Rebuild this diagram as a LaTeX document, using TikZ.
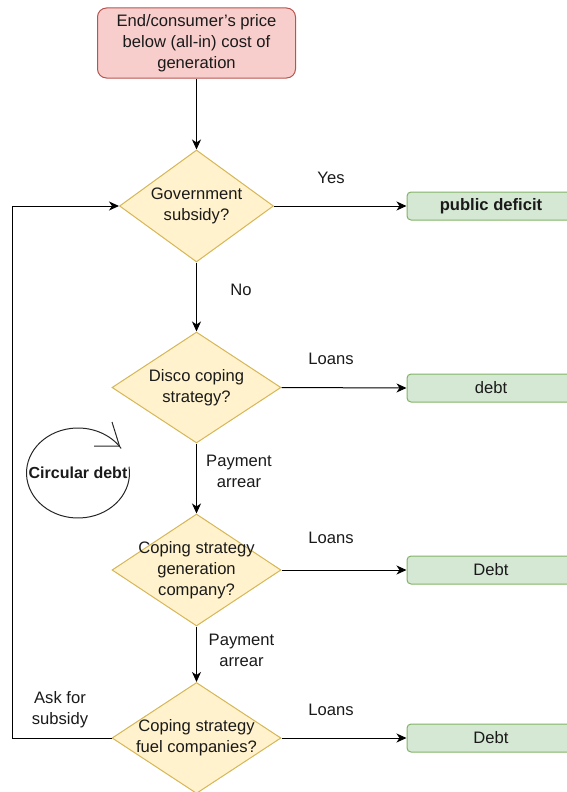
\documentclass[tikz,border=0pt]{standalone}
\usepackage{fontspec}
\setmainfont{Liberation Sans}
\usetikzlibrary{shapes.geometric,arrows.meta}
\definecolor{redfill}{HTML}{F8CECC}
\definecolor{redline}{HTML}{B85450}
\definecolor{yelfill}{HTML}{FFF2CC}
\definecolor{yelline}{HTML}{D6B656}
\definecolor{grnfill}{HTML}{D5E8D4}
\definecolor{grnline}{HTML}{82B366}
\definecolor{txtcol}{HTML}{1A1A1A}
\begin{document}
\begin{tikzpicture}[x=1pt,y=1pt,
  every node/.style={text=txtcol, font=\fontsize{16.6}{21}\selectfont},
  startbox/.style={draw=redline, fill=redfill, rounded corners=9pt, line width=1pt,
    minimum width=198pt, minimum height=70pt, align=center, inner sep=0pt},
  dia/.style={diamond, draw=yelline, fill=yelfill, line width=1pt, inner sep=0pt,
    minimum height=111pt},
  dtxt/.style={align=center, inner sep=0pt},
  res/.style={draw=grnline, fill=grnfill, rounded corners=4pt, line width=1pt,
    minimum width=168pt, minimum height=28pt, inner sep=0pt},
  lbl/.style={align=center, inner sep=0pt},
  arr/.style={line width=1pt, draw=black, -{Stealth[length=10pt,width=9pt,inset=3pt]}},
  circ/.style={line width=1pt, draw=black!85}
]
\useasboundingbox (0,0) rectangle (566,-792);

% main column
\node[startbox] (start) at (196.5,-43) {End/consumer's price\\below (all-in) cost of\\generation};

\node[dia, minimum width=154pt, minimum height=112pt] (d1) at (196.5,-206) {};
\node[dtxt] (t1) at (d1) {Government\\subsidy?};

\node[dia, minimum width=169pt] (d2) at (196.5,-387.5) {};
\node[dtxt] (t2) at (d2) {Disco coping\\strategy?};

\node[dia, minimum width=169pt, minimum height=112pt] (d3) at (196.5,-570) {};
\node[dtxt] (t3) at (d3) {Coping strategy\\generation\\company?};

\node[dia, minimum width=169pt] (d4) at (196.5,-738) {};
\node[dtxt] (t4) at (d4) {Coping strategy\\fuel companies?};

% results
\node[res] (r1) at (491,-206) {\bfseries public deficit};
\node[res] (r2) at (491,-388) {debt};
\node[res] (r3) at (491,-570) {Debt};
\node[res] (r4) at (491,-738) {Debt};

% connectors
\draw[arr] (start) -- (d1);
\draw[arr] (d1) -- (d2);
\draw[arr] (d2) -- (d3);
\draw[arr] (d3) -- (d4);
\draw[arr] (d1.east) -- (r1.west);
\draw[arr] (d2.east) -- (r2.west);
\draw[arr] (d3.east) -- (r3.west);
\draw[arr] (d4.east) -- (r4.west);
\draw[arr] (d4.west) -- ++(-99.5,0) |- (d1.west);

% labels
\node[lbl] (lyes) at (331,-178) {Yes};
\node[lbl] (lno) at (241,-290) {No};
\node[lbl] (lloan1) at (331,-359) {Loans};
\node[lbl] (lpay1) at (239,-471.5) {Payment\\arrear};
\node[lbl] (lloan2) at (331,-538) {Loans};
\node[lbl] (lpay2) at (241.5,-650.5) {Payment\\arrear};
\node[lbl] (lloan3) at (331,-710) {Loans};
\node[lbl] (lask) at (60,-709.5) {Ask for\\subsidy};

% circular debt
\coordinate (cc) at (78,-473);
\draw[circ] (cc) ++(8:51.5 and 45) arc[start angle=8, end angle=-327, x radius=51.5, y radius=45];
\draw[circ] (94,-446) -- (119.5,-446) -- (112,-422);
\node[lbl, font=\fontsize{16}{21}\selectfont\bfseries] (cd) at (cc) {Circular debt};
\end{tikzpicture}
\end{document}
